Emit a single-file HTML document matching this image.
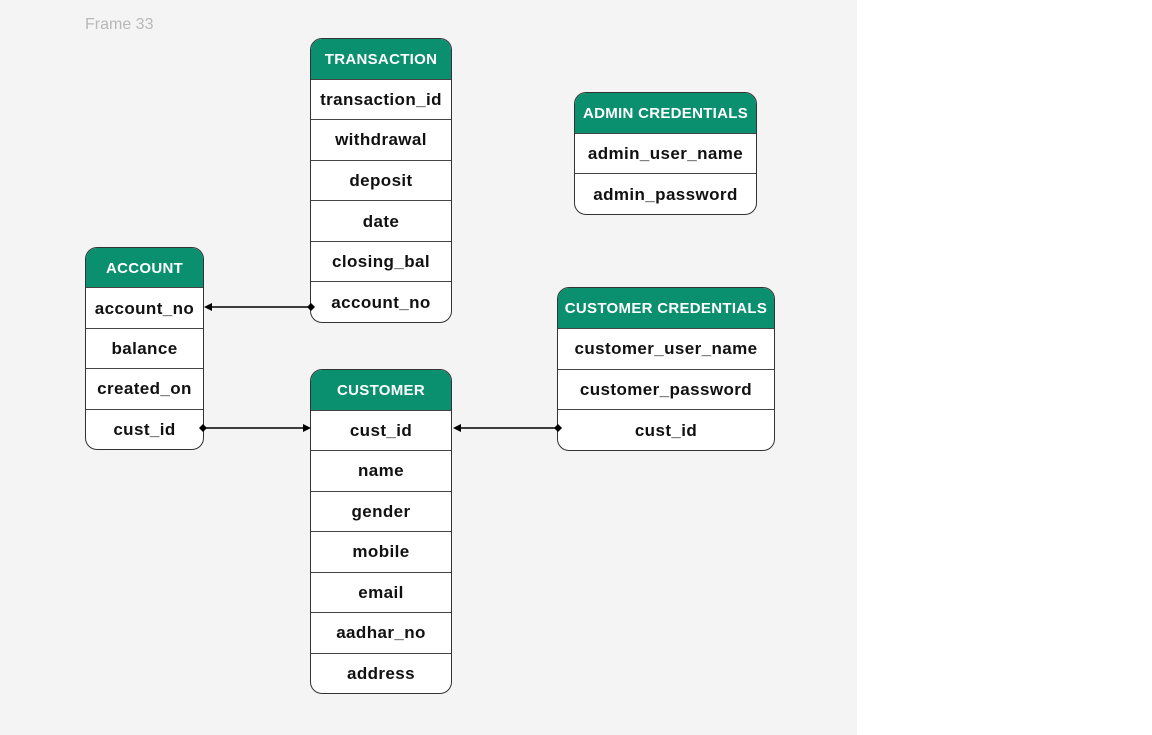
<!DOCTYPE html>
<html><head><meta charset="utf-8"><style>
html,body{margin:0;padding:0;width:1152px;height:735px;overflow:hidden;background:#fff;font-family:"Liberation Sans",sans-serif}
#frame{position:absolute;left:0;top:0;width:857px;height:735px;background:#f4f4f4}
.lbl{position:absolute;left:85px;top:16px;font-size:16px;color:#b8b8b8}
.t{position:absolute;border:1px solid #333;border-radius:12px;overflow:hidden;background:#fff;box-sizing:border-box;display:flex;flex-direction:column}
.t div{flex:1;display:flex;align-items:center;justify-content:center;font-weight:bold;font-size:17px;letter-spacing:0.4px;color:#111;border-top:1px solid #444;white-space:nowrap;padding-top:1px}
.t div.h{background:#0a8f6f;color:#fff;border-top:none;font-size:15px;letter-spacing:0.3px}
svg{position:absolute;left:0;top:0}
</style></head><body>
<div id="frame"></div>
<div class="lbl">Frame 33</div>

<div class="t" style="left:310px;top:38px;width:142px;height:285px">
<div class="h">TRANSACTION</div><div>transaction_id</div><div>withdrawal</div><div>deposit</div><div>date</div><div>closing_bal</div><div>account_no</div></div>

<div class="t" style="left:85px;top:247px;width:119px;height:203px">
<div class="h">ACCOUNT</div><div>account_no</div><div>balance</div><div>created_on</div><div>cust_id</div></div>

<div class="t" style="left:310px;top:369px;width:142px;height:325px">
<div class="h">CUSTOMER</div><div>cust_id</div><div>name</div><div>gender</div><div>mobile</div><div>email</div><div>aadhar_no</div><div>address</div></div>

<div class="t" style="left:574px;top:92px;width:183px;height:123px">
<div class="h">ADMIN CREDENTIALS</div><div>admin_user_name</div><div>admin_password</div></div>

<div class="t" style="left:557px;top:287px;width:218px;height:164px">
<div class="h">CUSTOMER CREDENTIALS</div><div>customer_user_name</div><div>customer_password</div><div>cust_id</div></div>

<svg width="1152" height="735">
<g stroke="#000" stroke-width="1.5" fill="#000">
<line x1="311" y1="307" x2="208" y2="307"/>
<polygon points="204,307 212,303 212,311" stroke="none"/>
<polygon points="311,303 315,307 311,311 307,307" stroke="none"/>
<line x1="203" y1="428" x2="306" y2="428"/>
<polygon points="311,428 303,424 303,432" stroke="none"/>
<polygon points="203,424 207,428 203,432 199,428" stroke="none"/>
<line x1="558" y1="428" x2="458" y2="428"/>
<polygon points="453,428 461,424 461,432" stroke="none"/>
<polygon points="558,424 562,428 558,432 554,428" stroke="none"/>
</g>
</svg>
</body></html>
